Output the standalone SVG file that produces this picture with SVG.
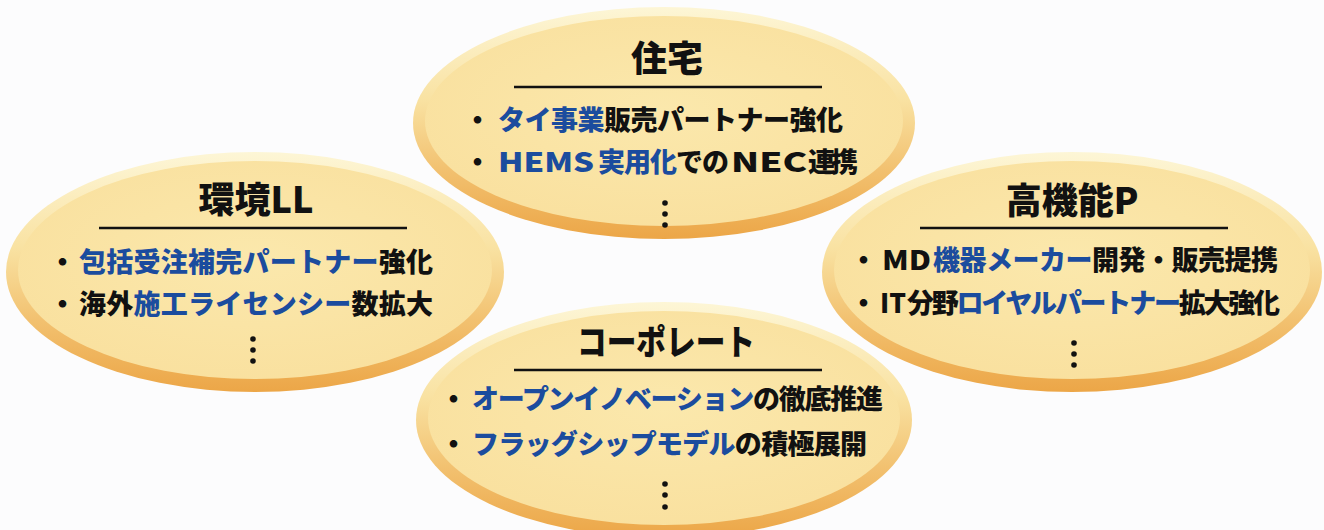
<svg xmlns="http://www.w3.org/2000/svg" width="1324" height="530" viewBox="0 0 1324 530">
<defs>
<linearGradient id="rim" x1="0" y1="0" x2="0" y2="1">
<stop offset="0" stop-color="#FDF6D6"/>
<stop offset="0.4" stop-color="#F9E2A2"/>
<stop offset="0.7" stop-color="#F2C170"/>
<stop offset="1" stop-color="#ECA647"/>
</linearGradient>
<radialGradient id="core" cx="0.5" cy="0.45" r="0.6">
<stop offset="0" stop-color="#FBE8AC"/>
<stop offset="1" stop-color="#F9E09E"/>
</radialGradient>
<style>
.t{font-family:"Noto Sans CJK JP","Noto Sans",sans-serif;font-weight:900;fill:#111}
.h{font-size:36px;text-anchor:middle}
.l{font-size:27px}
.b{fill:#1B4C9E}
.k{fill:#111}
.u{stroke:#111;stroke-width:2.5}
.d{fill:#111}
</style>
</defs>
<rect width="1324" height="530" fill="#FCFCFD"/>

<g id="kankyo">
<ellipse cx="255" cy="272" rx="249" ry="120" fill="url(#rim)"/>
<ellipse cx="255" cy="270" rx="237" ry="109" fill="url(#core)"/>
<text class="t h" x="256" y="213">環境LL</text>
<line class="u" x1="99" y1="228" x2="407" y2="228"/>
<text class="t l" x="49" y="272">・</text>
<text class="t l b" x="79" y="272" textLength="354">包括受注補完パートナー<tspan class="k">強化</tspan></text>
<text class="t l" x="49" y="314">・</text>
<text class="t l" x="79" y="314" textLength="354">海外<tspan class="b">施工ライセンシー</tspan>数拡大</text>
<circle class="d" cx="253" cy="339" r="2.8"/><circle class="d" cx="253" cy="350" r="2.8"/><circle class="d" cx="253" cy="361" r="2.8"/>
</g>

<g id="koukinou">
<ellipse cx="1072" cy="272" rx="250" ry="120" fill="url(#rim)"/>
<ellipse cx="1072" cy="270" rx="238" ry="109" fill="url(#core)"/>
<text class="t h" x="1072" y="214">高機能P</text>
<line class="u" x1="920" y1="228" x2="1228" y2="228"/>
<text class="t l" x="850" y="270">・</text>
<text class="t l" x="882" y="270" textLength="49" lengthAdjust="spacingAndGlyphs">MD</text>
<text class="t l b" x="933" y="270" textLength="345">機器メーカー<tspan class="k">開発・販売提携</tspan></text>
<text class="t l" x="850" y="313">・</text>
<text class="t l" x="880" y="313" textLength="26" lengthAdjust="spacingAndGlyphs">IT</text>
<text class="t l" x="907" y="313" textLength="373">分野<tspan class="b">ロイヤルパートナー</tspan>拡大強化</text>
<circle class="d" cx="1074" cy="343" r="2.8"/><circle class="d" cx="1074" cy="354" r="2.8"/><circle class="d" cx="1074" cy="365" r="2.8"/>
</g>

<g id="jutaku">
<ellipse cx="664" cy="123" rx="251" ry="116" fill="url(#rim)"/>
<ellipse cx="664" cy="121" rx="239" ry="105" fill="url(#core)"/>
<text class="t h" x="667" y="72">住宅</text>
<line class="u" x1="514" y1="87" x2="822" y2="87"/>
<text class="t l" x="464" y="130">・</text>
<text class="t l b" x="498" y="130" textLength="345">タイ事業<tspan class="k">販売パートナー強化</tspan></text>
<text class="t l" x="464" y="172">・</text>
<text class="t l b" x="498" y="172" textLength="96" lengthAdjust="spacingAndGlyphs">HEMS</text>
<text class="t l b" x="598" y="172" textLength="131">実用化<tspan class="k">での</tspan></text>
<text class="t l" x="731" y="172" textLength="76" lengthAdjust="spacingAndGlyphs">NEC</text>
<text class="t l" x="808" y="172" textLength="50">連携</text>
<circle class="d" cx="665" cy="203" r="2.8"/><circle class="d" cx="665" cy="214" r="2.8"/><circle class="d" cx="665" cy="225" r="2.8"/>
</g>

<g id="corporate">
<ellipse cx="664" cy="420" rx="248" ry="118" fill="url(#rim)"/>
<ellipse cx="664" cy="418" rx="236" ry="107" fill="url(#core)"/>
<text class="t" x="577" y="355" font-size="35" textLength="178" lengthAdjust="spacingAndGlyphs">コーポレート</text>
<line class="u" x1="514" y1="370" x2="822" y2="370"/>
<text class="t l" x="440" y="409">・</text>
<text class="t l b" x="472" y="409" textLength="411">オープンイノベーション<tspan class="k">の徹底推進</tspan></text>
<text class="t l" x="440" y="454">・</text>
<text class="t l b" x="472" y="454" textLength="395">フラッグシップモデル<tspan class="k">の積極展開</tspan></text>
<circle class="d" cx="665" cy="484" r="2.8"/><circle class="d" cx="665" cy="495" r="2.8"/><circle class="d" cx="665" cy="507" r="2.8"/>
</g>

<g id="connectors"></g>
</svg>
